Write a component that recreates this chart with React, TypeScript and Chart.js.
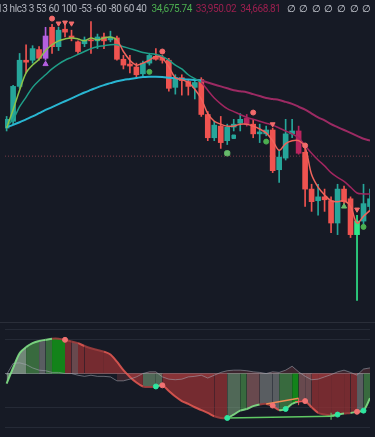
import React, { useEffect, useRef } from "react";
import { Chart, registerables } from "chart.js";
Chart.register(...registerables);

// ---------- price candles (index = bar number) ----------
const opens = [34838,34880,35096,35258,35258,35324,35270,35462,35342,35450,35408,35372,35360,35384,35378,35402,35384,35396,35264,35234,35216,35174,35240,35282,35276,35258,35090,35150,35126,35090,35138,34922,34778,34850,34760,34844,34868,34898,34862,34802,34802,34826,34580,34652,34802,34820,34688,34460,34388,34412,34388,34250,34460,34400,34178,34262,34352];
const highs = [34910,35102,35300,35354,35348,35342,35462,35480,35462,35480,35444,35378,35402,35498,35420,35426,35438,35408,35288,35288,35240,35252,35300,35330,35288,35270,35168,35168,35138,35138,35150,34940,34880,34910,34862,34892,34928,34922,34892,34862,34850,34838,34700,34892,34892,34850,34712,34490,34490,34460,34412,34490,34478,34412,34298,34490,34460];
const lows = [34820,34862,35084,35180,35240,35258,35258,35300,35318,35402,35378,35300,35342,35300,35330,35330,35372,35258,35204,35180,35144,35162,35228,35258,35240,35066,35048,35042,35042,35018,34910,34760,34760,34712,34736,34820,34820,34850,34778,34748,34790,34562,34502,34640,34778,34676,34352,34322,34298,34322,34190,34178,34364,34160,33770,34232,34328];
const closes = [34892,35096,35258,35246,35330,35270,35408,35342,35444,35432,35396,35312,35384,35378,35402,35378,35402,35264,35228,35222,35168,35240,35288,35264,35258,35084,35150,35132,35096,35120,34922,34778,34856,34748,34844,34862,34892,34862,34802,34814,34826,34574,34658,34802,34820,34682,34460,34382,34412,34394,34250,34460,34382,34178,34262,34370,34400];

// highlighted bars
const purpleBars = [6];
const magentaBars = [37, 45];
const brightBars = [54];

// moving averages
const fastMA = [34838,34952,35072,35180,35228,35264,35318,35354,35378,35390,35396,35390,35378,35396,35384,35396,35402,35384,35312,35258,35228,35240,35258,35282,35270,35216,35150,35138,35120,35078,35018,34928,34880,34862,34850,34850,34862,34862,34850,34832,34808,34760,34700,34742,34760,34760,34718,34550,34472,34424,34388,34382,34388,34352,34250,34292,34328];
const midMA = [34850,34892,34970,35030,35090,35132,35168,35204,35234,35258,35276,35294,35312,35330,35342,35348,35354,35354,35342,35330,35318,35306,35300,35294,35282,35258,35228,35204,35168,35144,35120,35072,35024,34988,34958,34940,34922,34904,34892,34880,34868,34856,34838,34820,34802,34778,34730,34682,34640,34604,34562,34532,34508,34472,34436,34430,34430];
const slowMA = [34844,34858,34874,34892,34910,34930,34950,34968,34986,35004,35022,35040,35058,35074,35090,35104,35116,35128,35136,35142,35148,35154,35156,35156,35154,35150,35146,35142,35138,35136,35132,35120,35108,35096,35084,35072,35066,35060,35048,35036,35024,35018,35012,35000,34988,34970,34952,34928,34904,34886,34862,34844,34826,34808,34790,34772,34760];
const fastSwitch = 17;
const midSwitch = 30;
const slowSwitch = 30;
const refPrice = 34664;

// price-panel markers
const redDotX = [7, 24, 38, 46];
const redDotY = [35516, 35312, 34934, 34730];
const redTriX = [8, 9, 10, 41, 54];
const redTriY = [35486, 35492, 35486, 34862, 34334];
const purpleTriX = [6];
const purpleTriY = [35234];
const greenDotX = [22, 40, 55];
const greenDotY = [35186, 34754, 34226];
const greenPentX = [34];
const greenPentY = [34682];
const greenTriX = [52];
const greenTriY = [34352];
const tealSqX = [35];
const tealSqY = [34784];

// ---------- oscillator ----------
const oscWave = [-18,10,36,47,54,58,60,62,62,60,57,54,49,45,42,39,34,21,6,-6,-16,-23,-24,-23,-21,-31,-41,-49,-54,-60,-65,-70,-76,-79,-79,-73,-66,-63,-58,-55,-54,-58,-65,-63,-54,-50,-49,-60,-70,-73,-75,-73,-71,-70,-68,-66,-44];
const oscState = ["l","l","l","g","g","n","g","G","G","r","rn","r","r","r","r","r","r","r","r","r","r","gn","gn","gn","r","r","r","r","r","r","r","r","r","r","gn","gn","g","rn","rn","n","n","n","g","g","G","rn","rn","r","r","r","r","r","r","r","n","g","g"];
const oscSignal = [-2,18,19,16,10,6,5,2,2,0,0,-3,-5,-3,-5,-5,-6,-13,-13,-10,-6,0,3,3,-6,-10,-11,-10,-6,-5,-3,-8,-3,2,5,6,6,5,3,2,0,3,2,6,13,3,-5,-11,-10,-6,-2,3,6,2,-3,8,10];
const oscLevels = [78, 60, 0, -60, -96];
const oscRedDotX = [9, 24, 41, 46, 54];
const oscRedDotY = [60, -21, -57, -49, -68];
const oscGreenDotX = [23, 34, 43, 51, 55];
const oscGreenDotY = [-23, -79, -63, -73, -66];
const bullDivX = [34, 50];
const bullDivY = [-79, -76];
const bearDivX = [40, 45];
const bearDivY = [-54, -44];

const legendParams = "13 hlc3 3 53 60 100 -53 -60 -80 60 40";
const legendValues = ["34,675.74", "33,950.02", "34,668.81"];
const legendEmpty = 8;

const BG = "#161a25";
const UP = "#26a69a";
const DOWN = "#ef5350";
const STATE_COLORS: Record<string, string> = {
  l: "rgba(190,225,190,0.55)",
  g: "rgba(80,160,80,0.6)",
  G: "rgba(20,140,25,0.92)",
  n: "rgba(170,175,170,0.45)",
  gn: "rgba(130,170,130,0.55)",
  r: "rgba(150,50,52,0.75)",
  rn: "rgba(185,120,120,0.5)",
};

const pts = (xs: number[], ys: number[]) => xs.map((x, i) => ({ x, y: ys[i] }));
const series = (ys: number[]) => ys.map((y, i) => ({ x: i, y }));

const marker = (xs: number[], ys: number[], color: string, style: string, radius: number, rotation = 0, order = 0) => ({
  type: "scatter" as const,
  data: pts(xs, ys),
  pointStyle: style,
  pointRadius: radius,
  pointRotation: rotation,
  pointBackgroundColor: color,
  pointBorderColor: color,
  pointBorderWidth: 1,
  order,
});

export default function App() {
  const topRef = useRef<HTMLCanvasElement>(null);
  const botRef = useRef<HTMLCanvasElement>(null);

  useEffect(() => {
    document.body.style.margin = "0";
    document.body.style.background = BG;

    const candleColor = (i: number) => {
      if (purpleBars.includes(i)) return "#b45fe0";
      if (magentaBars.includes(i)) return "#b8245e";
      if (brightBars.includes(i)) return "#2ee68a";
      return closes[i] >= opens[i] ? UP : DOWN;
    };
    const bodies = opens.map((o, i) => ({ x: i, y: [o, closes[i]] }));
    const wicks = opens.map((_, i) => ({ x: i, y: [lows[i], highs[i]] }));

    const xScale = { type: "linear" as const, min: -0.25, max: 56, display: false, offset: false };

    const top = new Chart(topRef.current!, {
      type: "bar",
      data: {
        datasets: [
          marker(redDotX, redDotY, "#f26b6b", "circle", 2.5),
          marker(redTriX, redTriY, "#f26b6b", "triangle", 2.8, 180),
          marker(purpleTriX, purpleTriY, "#b45fe0", "triangle", 3),
          marker(greenDotX, greenDotY, "#4caf50", "circle", 2.5),
          marker(greenPentX, greenPentY, "#66bb6a", "rectRounded", 3),
          marker(greenTriX, greenTriY, "#66bb6a", "triangle", 3),
          marker(tealSqX, tealSqY, "#26a69a", "rect", 2.5),
          {
            type: "line", data: series(fastMA), pointRadius: 0, borderWidth: 1.5, tension: 0.35,
            borderColor: "#f0645c",
            segment: { borderColor: (c: any) => (c.p0DataIndex < fastSwitch ? "#8bc34a" : "#f0645c") },
            order: 1,
          },
          {
            type: "line", data: series(midMA), pointRadius: 0, borderWidth: 1.5, tension: 0.35,
            borderColor: "#1f9e88",
            segment: { borderColor: (c: any) => (c.p0DataIndex < midSwitch ? "#1f9e88" : "#a0265f") },
            order: 1,
          },
          {
            type: "line", data: series(slowMA), pointRadius: 0, borderWidth: 2, tension: 0.35,
            borderColor: "#29b6d2",
            segment: { borderColor: (c: any) => (c.p0DataIndex < slowSwitch ? "#29b6d2" : "#9c2a63") },
            order: 1,
          },
          {
            type: "bar", data: bodies as any, grouped: false, barThickness: 5, minBarLength: 1,
            backgroundColor: (c: any) => candleColor(c.dataIndex), order: 2,
          },
          {
            type: "bar", data: wicks as any, grouped: false, barThickness: 1,
            backgroundColor: (c: any) => candleColor(c.dataIndex), order: 3,
          },
          {
            type: "line", data: [{ x: -0.25, y: refPrice }, { x: 56, y: refPrice }],
            borderColor: "rgba(190,80,95,0.6)", borderWidth: 1, borderDash: [1, 2], pointRadius: 0, order: 4,
          },
        ] as any,
      },
      options: {
        animation: false,
        responsive: false,
        events: [],
        layout: { padding: 0 },
        plugins: { legend: { display: false }, tooltip: { enabled: false } },
        scales: { x: xScale, y: { min: 33668, max: 35600, display: false } },
      } as any,
    });

    const edgeColor = (c: any) => {
      const d = c.p1.parsed.y - c.p0.parsed.y;
      if (d > 1) return "rgba(130,225,135,0.9)";
      if (d < -4) return "rgba(232,90,84,0.85)";
      return "rgba(160,62,62,0.9)";
    };

    const bot = new Chart(botRef.current!, {
      type: "line",
      data: {
        datasets: [
          marker(oscRedDotX, oscRedDotY, "#f27272", "circle", 2.5),
          marker(oscGreenDotX, oscGreenDotY, "#2ee6a0", "circle", 2.5),
          marker([bullDivX[1]], [bullDivY[1]], "#66d36e", "cross", 3.5),
          marker([bearDivX[1]], [bearDivY[1] - 6], "#f05a5a", "cross", 3.5),
          {
            type: "line", data: pts(bullDivX, bullDivY), borderColor: "#5fc964", borderWidth: 1.5, pointRadius: 0, order: 1,
          },
          {
            type: "line", data: pts(bearDivX, bearDivY), borderColor: "#f08a55", borderWidth: 1.5, pointRadius: 0, order: 1,
          },
          {
            type: "line", data: series(oscSignal), borderColor: "rgba(165,170,180,0.55)", borderWidth: 1, pointRadius: 0,
            tension: 0, fill: "origin",
            segment: { backgroundColor: (c: any) => (c.p0DataIndex >= 17 ? "rgba(215,85,85,0.2)" : "rgba(0,0,0,0)") },
            order: 2,
          },
          {
            type: "line", data: series(oscWave), borderWidth: 2, pointRadius: 0, tension: 0.3, fill: "origin",
            borderColor: "rgba(160,62,62,0.9)", backgroundColor: STATE_COLORS.r,
            segment: {
              borderColor: edgeColor,
              backgroundColor: (c: any) => STATE_COLORS[oscState[c.p0DataIndex]],
            },
            order: 3,
          },
        ] as any,
      },
      options: {
        animation: false,
        responsive: false,
        events: [],
        layout: { padding: 0 },
        plugins: { legend: { display: false }, tooltip: { enabled: false } },
        scales: {
          x: xScale,
          y: {
            min: -104, max: 81, display: true,
            ticks: { display: false },
            border: { display: false },
            grid: {
              drawTicks: false,
              color: (c: any) => (c.tick && c.tick.value === 0 ? "rgba(135,140,150,0.75)" : "#252a36"),
            },
            afterBuildTicks: (s: any) => { s.ticks = oscLevels.map((v) => ({ value: v })); },
          },
        },
      } as any,
    });

    return () => { top.destroy(); bot.destroy(); };
  }, []);

  return (
    <div style={{ position: "relative", width: 375, height: 437, background: BG, overflow: "hidden" }}>
      <canvas ref={topRef} width={375} height={322} style={{ position: "absolute", left: 0, top: 0 }} />
      <div style={{ position: "absolute", left: 0, top: 322, width: 375, height: 115, borderTop: "1px solid #2a2e39", boxSizing: "border-box" }}>
        <canvas ref={botRef} width={375} height={114} style={{ display: "block" }} />
      </div>
      <div style={{ position: "absolute", left: -3, top: 3, fontFamily: "Roboto, sans-serif", fontSize: 10, letterSpacing: -0.4, whiteSpace: "nowrap", color: "#b2b5be", lineHeight: "12px" }}>
        <span>{legendParams}</span>
        <span style={{ color: "#4caf50", marginLeft: 5 }}>{legendValues[0]}</span>
        <span style={{ color: "#9c1f4f", marginLeft: 4 }}>{legendValues[1]}</span>
        <span style={{ color: "#9c1f4f", marginLeft: 4 }}>{legendValues[2]}</span>
        <span style={{ marginLeft: 4 }}>
          {Array.from({ length: legendEmpty }, (_, i) => (
            <span key={i} style={{ display: "inline-block", width: 12.6, textAlign: "center", color: "#d1d4dc" }}>∅</span>
          ))}
        </span>
      </div>
    </div>
  );
}
